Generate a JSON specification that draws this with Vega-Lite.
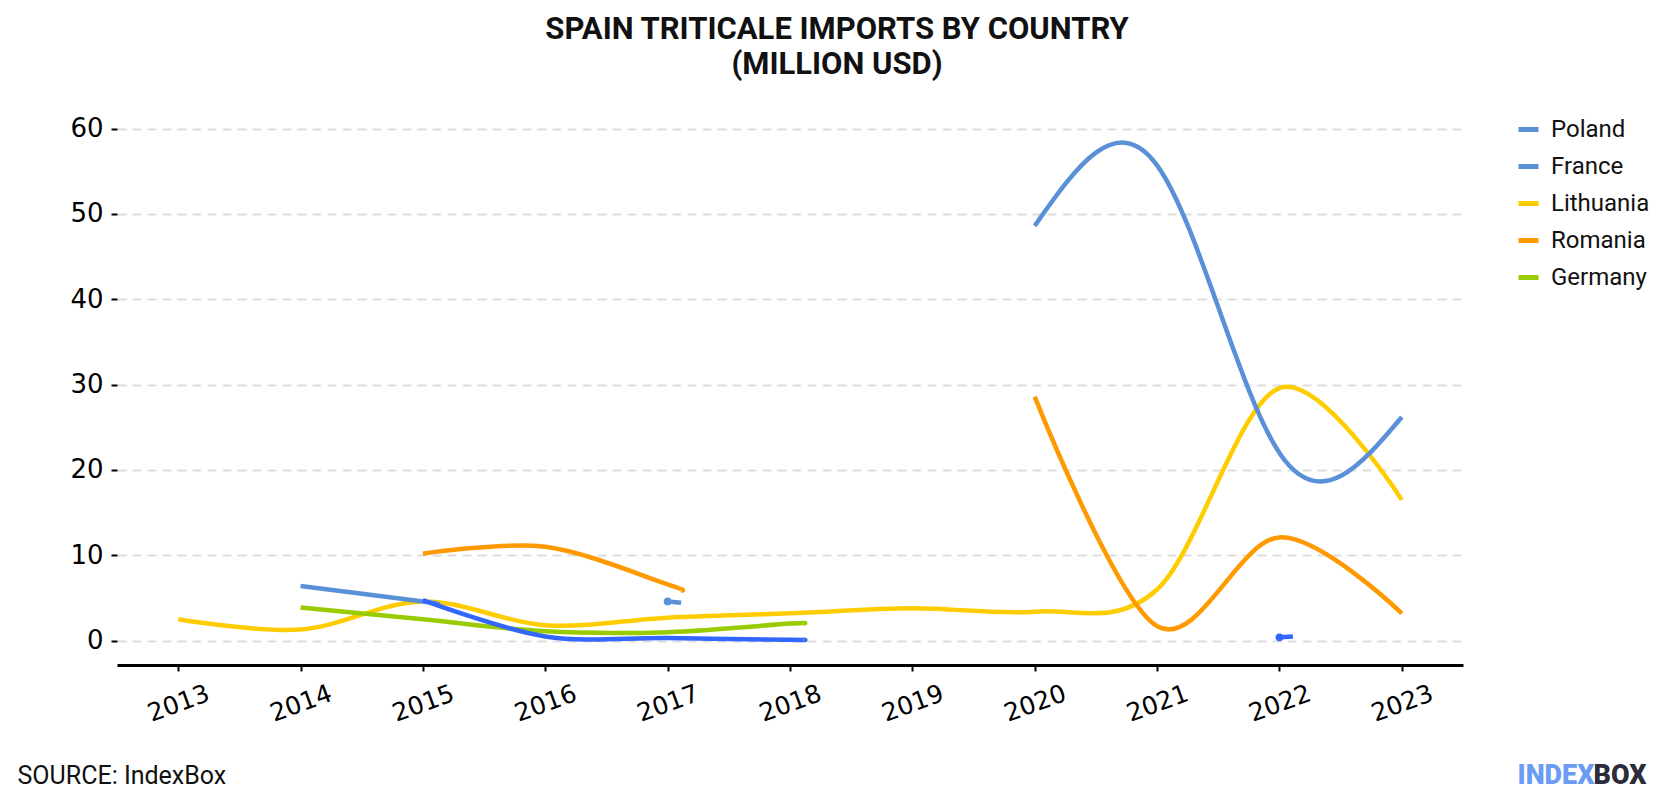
{
  "$schema": "https://vega.github.io/schema/vega-lite/v6.json",
  "width": 1346,
  "height": 562,
  "autosize": {"type": "none"},
  "padding": {"left": 117, "top": 103, "right": 217, "bottom": 135},
  "background": "white",
  "title": {
    "text": ["SPAIN TRITICALE IMPORTS BY COUNTRY", "(MILLION USD)"],
    "anchor": "middle",
    "frame": "group",
    "dx": 47,
    "offset": 22,
    "font": "Liberation Sans Narrow, Roboto",
    "fontSize": 31,
    "fontWeight": "bold",
    "lineHeight": 35,
    "color": "#111111"
  },
  "config": {"view": {"stroke": null}},
  "data": {
    "values": [
      {"country": "Lithuania", "seg": "L", "year": 2013, "value": 2.5},
      {"country": "Lithuania", "seg": "L", "year": 2014, "value": 1.3},
      {"country": "Lithuania", "seg": "L", "year": 2015, "value": 4.6},
      {"country": "Lithuania", "seg": "L", "year": 2016, "value": 1.8},
      {"country": "Lithuania", "seg": "L", "year": 2017, "value": 2.7},
      {"country": "Lithuania", "seg": "L", "year": 2018, "value": 3.2},
      {"country": "Lithuania", "seg": "L", "year": 2019, "value": 3.8},
      {"country": "Lithuania", "seg": "L", "year": 2020, "value": 3.4},
      {"country": "Lithuania", "seg": "L", "year": 2021, "value": 6.0},
      {"country": "Lithuania", "seg": "L", "year": 2022, "value": 29.6},
      {"country": "Lithuania", "seg": "L", "year": 2023, "value": 16.5},
      {"country": "Germany", "seg": "G", "year": 2014, "value": 3.9},
      {"country": "Germany", "seg": "G", "year": 2015, "value": 2.5},
      {"country": "Germany", "seg": "G", "year": 2016, "value": 1.1},
      {"country": "Germany", "seg": "G", "year": 2017, "value": 1.0},
      {"country": "Germany", "seg": "G", "year": 2018, "value": 2.0},
      {"country": "Germany", "seg": "G", "year": 2018.11, "value": 2.0},
      {"country": "Poland", "seg": "P1", "year": 2014, "value": 6.4},
      {"country": "Poland", "seg": "P1", "year": 2015, "value": 4.6},
      {"country": "Poland", "seg": "P1", "year": 2015.11, "value": 4.3},
      {"country": "Poland", "seg": "P2", "year": 2020, "value": 48.6},
      {"country": "Poland", "seg": "P2", "year": 2021, "value": 55.7},
      {"country": "Poland", "seg": "P2", "year": 2022, "value": 22.0},
      {"country": "Poland", "seg": "P2", "year": 2023, "value": 26.2},
      {"country": "Romania", "seg": "R1", "year": 2015, "value": 10.2},
      {"country": "Romania", "seg": "R1", "year": 2016, "value": 11.0},
      {"country": "Romania", "seg": "R1", "year": 2017, "value": 6.6},
      {"country": "Romania", "seg": "R1", "year": 2017.11, "value": 5.9},
      {"country": "Romania", "seg": "R2", "year": 2020, "value": 28.6},
      {"country": "Romania", "seg": "R2", "year": 2021, "value": 1.7},
      {"country": "Romania", "seg": "R2", "year": 2022, "value": 12.1},
      {"country": "Romania", "seg": "R2", "year": 2023, "value": 3.2},
      {"country": "France", "seg": "F1", "year": 2017, "value": 4.6},
      {"country": "France", "seg": "F1", "year": 2017.11, "value": 4.45},
      {"country": "France", "seg": "F2", "year": 2022, "value": 0.4},
      {"country": "France", "seg": "F2", "year": 2022.11, "value": 0.5},
      {"country": "Other", "seg": "O", "year": 2015, "value": 4.75},
      {"country": "Other", "seg": "O", "year": 2016, "value": 0.5},
      {"country": "Other", "seg": "O", "year": 2017, "value": 0.3},
      {"country": "Other", "seg": "O", "year": 2018, "value": 0.1},
      {"country": "Other", "seg": "O", "year": 2018.11, "value": 0.1}
    ]
  },
  "encoding": {
    "x": {
      "field": "year",
      "type": "quantitative",
      "scale": {"domain": [2012.5, 2023.5], "nice": false, "zero": false},
      "axis": {
        "values": [2013, 2014, 2015, 2016, 2017, 2018, 2019, 2020, 2021, 2022, 2023],
        "format": "d",
        "labelAngle": -20,
        "labelAlign": "center",
        "labelBaseline": "middle",
        "labelPadding": 32,
        "labelOverlap": false,
        "labelFlush": false,
        "labelFont": "DejaVu Sans",
        "labelFontSize": 25,
        "labelColor": "#000000",
        "domainColor": "#000000",
        "domainWidth": 3,
        "tickColor": "#000000",
        "tickWidth": 2,
        "tickSize": 6,
        "grid": false,
        "title": "SOURCE: IndexBox",
        "titleX": -100,
        "titleY": 118,
        "titleAlign": "left",
        "titleAngle": 0,
        "titleBaseline": "alphabetic",
        "titleFont": "Roboto",
        "titleFontSize": 25,
        "titleFontWeight": "normal",
        "titleColor": "#111111"
      }
    }
  },
  "layer": [
    {
      "transform": [{"filter": "datum.country != 'Other' && datum.seg != 'F2' && datum.seg != 'P2'"}],
      "mark": {"type": "line", "interpolate": "cardinal", "strokeWidth": 4.5, "strokeCap": "butt"},
      "encoding": {
        "y": {
          "field": "value",
          "type": "quantitative",
          "scale": {"domain": [-2.85, 63], "nice": false, "zero": false},
          "axis": {
            "values": [0, 10, 20, 30, 40, 50, 60],
            "domain": false,
            "ticks": true,
            "tickColor": "#000000",
            "tickSize": 6,
            "tickWidth": 2,
            "labelFont": "DejaVu Sans",
            "labelFontSize": 26,
            "labelColor": "#000000",
            "labelPadding": 8,
            "grid": true,
            "gridColor": "#dddddd",
            "gridWidth": 2,
            "gridDash": [9, 6],
            "title": "INDEX",
            "titleAngle": 0,
            "titleX": 1400,
            "titleY": 680,
            "titleAlign": "left",
            "titleBaseline": "alphabetic",
            "titleFont": "Roboto",
            "titleFontSize": 27,
            "titleFontWeight": 900,
            "titleColor": "#6b9cf5"
          }
        },
        "color": {
          "field": "country",
          "type": "nominal",
          "scale": {
            "domain": ["Poland", "France", "Lithuania", "Romania", "Germany"],
            "range": ["#5a90d8", "#5a90d8", "#ffcc00", "#ff9900", "#99cc00"]
          },
          "legend": {
            "title": null,
            "orient": "none",
            "legendX": 1399,
            "legendY": 14,
            "padding": 0,
            "symbolType": "stroke",
            "symbolSize": 400,
            "symbolStrokeWidth": 5,
            "labelFont": "Roboto",
            "labelFontSize": 24,
            "labelColor": "#111111",
            "labelOffset": 10,
            "rowPadding": 12
          }
        },
        "detail": {"field": "seg"}
      }
    },
    {
      "transform": [{"filter": "datum.seg == 'P2'"}],
      "mark": {"type": "line", "interpolate": "natural", "strokeWidth": 4.5, "strokeCap": "butt", "color": "#5a90d8"},
      "encoding": {
        "y": {"field": "value", "type": "quantitative", "scale": {"domain": [-2.85, 63], "nice": false, "zero": false}, "axis": null}
      }
    },
    {
      "transform": [{"filter": "datum.seg == 'O' || datum.seg == 'F2'"}],
      "mark": {"type": "line", "interpolate": "cardinal", "strokeWidth": 4.5, "strokeCap": "butt", "color": "#3366ff"},
      "encoding": {
        "y": {
          "field": "value",
          "type": "quantitative",
          "scale": {"domain": [-2.85, 63], "nice": false, "zero": false},
          "axis": {
            "orient": "right",
            "grid": false,
            "ticks": false,
            "labels": false,
            "domain": false,
            "title": "BOX",
            "titleAngle": 0,
            "titleX": 130,
            "titleY": 680,
            "titleAlign": "left",
            "titleBaseline": "alphabetic",
            "titleFont": "Roboto",
            "titleFontSize": 27,
            "titleFontWeight": 900,
            "titleColor": "#2d2d3a"
          }
        },
        "detail": {"field": "seg"}
      }
    },
    {
      "transform": [{"filter": "datum.seg == 'F1' && datum.year == 2017"}],
      "mark": {"type": "point", "filled": true, "size": 60, "opacity": 1, "color": "#5a90d8"},
      "encoding": {
        "y": {"field": "value", "type": "quantitative", "scale": {"domain": [-2.85, 63], "nice": false, "zero": false}, "axis": null}
      }
    },
    {
      "transform": [{"filter": "datum.seg == 'F2' && datum.year == 2022"}],
      "mark": {"type": "point", "filled": true, "size": 60, "opacity": 1, "color": "#3366ff"},
      "encoding": {
        "y": {"field": "value", "type": "quantitative", "scale": {"domain": [-2.85, 63], "nice": false, "zero": false}, "axis": null}
      }
    }
  ],
  "resolve": {"axis": {"y": "independent"}}
}
